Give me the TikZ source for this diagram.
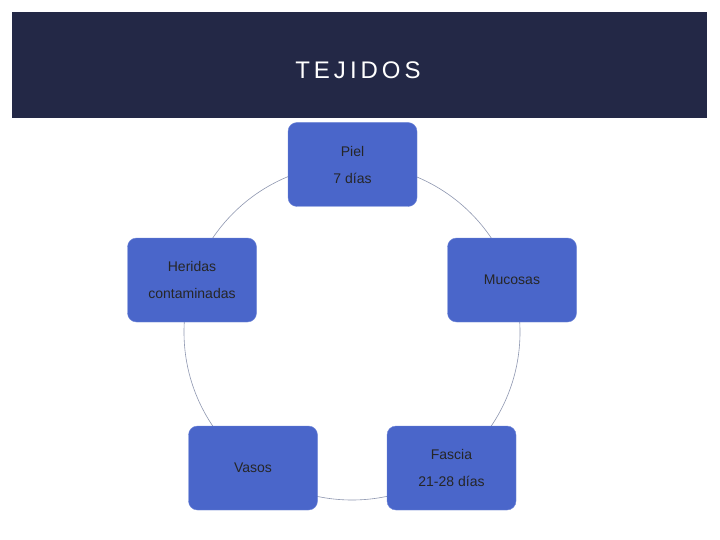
\documentclass[tikz,border=0pt]{standalone}
\usepackage{fontspec}
\setmainfont{Liberation Sans}
\definecolor{hdr}{HTML}{232846}
\definecolor{boxc}{HTML}{4A66CA}
\definecolor{boxe}{HTML}{6F86D8}
\definecolor{ring}{HTML}{8E97B0}
\begin{document}
\begin{tikzpicture}[x=1pt,y=-1pt,
  tbox/.style={draw=boxe,fill=boxc,rounded corners=9pt,minimum width=129pt,minimum height=84pt,align=center,font=\fontsize{14}{27}\selectfont,text=black!85,inner sep=2pt}]
\useasboundingbox (0,0) rectangle (720,540);
\fill[white] (0,0) rectangle (720,540);
\fill[hdr] (12,12) rectangle (707,118);
\node[text=white,font=\fontsize{24}{28}\selectfont] (title) at (358,70) {T\,E\,J\,I\,D\,O\,S};
\draw[ring,line width=0.6pt] (352,332) circle (168);
\node[tbox] (piel) at (352.5,164.5) {Piel\\7 días};
\node[tbox] (her) at (192,280) {\fontsize{14}{17}\selectfont Heridas\\contaminadas};
\node[tbox] (muc) at (512,280) {Mucosas};
\node[tbox] (vas) at (253,468) {Vasos};
\node[tbox] (fas) at (451.5,468) {Fascia\\21-28 días};
\end{tikzpicture}
\end{document}
